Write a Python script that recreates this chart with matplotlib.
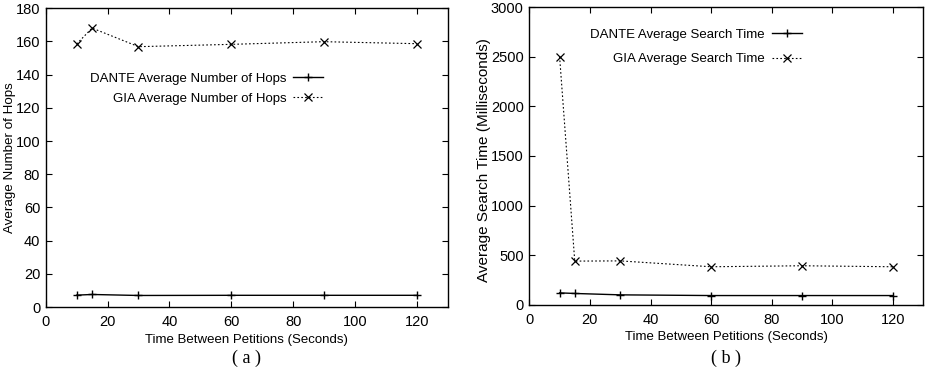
import matplotlib
matplotlib.use("Agg")
import matplotlib.pyplot as plt

# data
interval = [10, 15, 30, 60, 90, 120]
dante_hops = [7.2, 7.6, 7.0, 7.1, 7.1, 7.1]
gia_hops = [158.4, 168.0, 156.8, 158.2, 159.8, 158.6]
dante_time = [121, 115, 101, 94, 94, 94]
gia_time = [2501, 441, 443, 384, 394, 384]

plt.rcParams['font.family'] = ['Liberation Sans', 'DejaVu Sans']
TICK_FS = 10.5
LAB_FS = 9.5


def style_axes(ax, ylim, yticks):
    ax.set_xlim(0, 130)
    ax.set_ylim(*ylim)
    ax.set_xticks(range(0, 121, 20))
    ax.set_yticks(yticks)
    ax.tick_params(direction='in', length=4, width=0.8, top=True, right=True,
                   labelsize=TICK_FS)
    ax.tick_params(axis='x', pad=6)
    ax.tick_params(axis='y', pad=4)
    for s in ax.spines.values():
        s.set_linewidth(1.0)


fig = plt.figure(figsize=(9.25, 3.7), dpi=100)

# (a) hops
ax1 = fig.add_axes([0.0494, 0.170, 0.4346, 0.808])
ax1.plot(interval, dante_hops, color='black', lw=1.0, marker='+', ms=6, mew=1.0,
         label='DANTE Average Number of Hops')
ax1.plot(interval, gia_hops, color='black', lw=0.8, ls=(0, (1.5, 2)), marker='x', ms=6,
         mew=0.9, label='GIA Average Number of Hops')
style_axes(ax1, (0, 180), range(0, 181, 20))
ax1.set_xlabel('Time Between Petitions (Seconds)', fontsize=LAB_FS, labelpad=3)
ax1.set_ylabel('Average Number of Hops', fontsize=9.6)
ax1.yaxis.set_label_coords(-0.075, 0.5)
ax1.legend(loc='upper right', bbox_to_anchor=(0.69, 0.785), frameon=False, markerfirst=False,
           handlelength=2.3, handletextpad=0.5, labelspacing=0.6, fontsize=LAB_FS,
           borderaxespad=0, borderpad=0)
ax1.text(0.5, -0.171, '( a )', transform=ax1.transAxes, ha='center', va='center',
         family='Liberation Serif', fontsize=13)

# (b) search time
ax2 = fig.add_axes([0.5722, 0.176, 0.4259, 0.805])
ax2.plot(interval, dante_time, color='black', lw=1.0, marker='+', ms=6, mew=1.0,
         label='DANTE Average Search Time')
ax2.plot(interval, gia_time, color='black', lw=0.8, ls=(0, (1.5, 2)), marker='x', ms=6,
         mew=0.9, label='GIA Average Search Time')
style_axes(ax2, (0, 3000), range(0, 3001, 500))
ax2.set_xlabel('Time Between Petitions (Seconds)', fontsize=LAB_FS, labelpad=3)
ax2.set_ylabel('Average Search Time (Milliseconds)', fontsize=11)
ax2.yaxis.set_label_coords(-0.097, 0.487)
ax2.legend(loc='upper right', bbox_to_anchor=(0.692, 0.928), frameon=False, markerfirst=False,
           handlelength=2.3, handletextpad=0.5, labelspacing=0.95, fontsize=LAB_FS,
           borderaxespad=0, borderpad=0)
ax2.text(0.5, -0.178, '( b )', transform=ax2.transAxes, ha='center', va='center',
         family='Liberation Serif', fontsize=13)

fig.savefig('out.png', dpi=100)
